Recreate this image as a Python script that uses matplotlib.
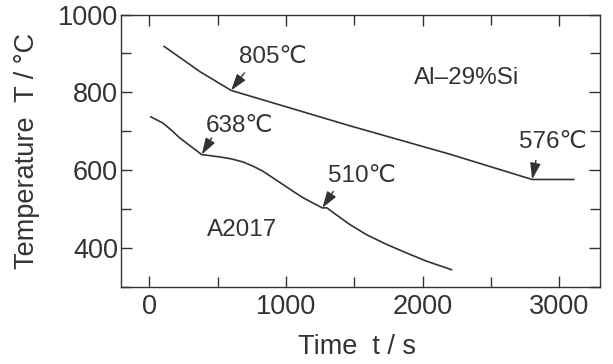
import matplotlib
matplotlib.use('Agg')
import matplotlib.pyplot as plt
from matplotlib.ticker import MultipleLocator

# cooling curves (time in s, temperature in degC)
alsi_t = [108, 371, 598, 1468, 2200, 2802, 3107]
alsi_T = [918, 853, 805, 714, 641, 576, 576]

a2017_t = [10, 99, 160, 221, 383, 450, 514, 600, 685, 760, 832, 905, 978, 1050, 1125, 1200, 1266,
           1300, 1322, 1468, 1590, 1737, 1883, 2029, 2212]
a2017_T = [737, 721, 703, 683, 640, 637, 634, 629, 621, 610, 597, 580, 563, 546, 529, 515, 503,
           503, 497, 460, 434, 409, 387, 366, 344]

# arrow marks: label, tip (t, T), tail (t, T), label position (t, T)
mark_labels = ['805℃', '638℃', '510℃', '576℃']
mark_tip = [(598, 805), (383, 640), (1266, 503), (2802, 576)]
mark_tail = [(695, 850), (456, 683), (1346, 545), (2830, 625)]
mark_text = [(901, 890), (661, 714), (1555, 584), (2955, 672)]

curve_labels = ['Al–29%Si', 'A2017']
curve_label_pos = [(2319, 836), (676, 447)]

plt.rcParams['font.family'] = ['Liberation Sans', 'DejaVu Sans']
ink = '#333333'

fig = plt.figure(figsize=(6.13, 3.64), dpi=100)
ax = fig.add_axes([0.197, 0.212, 0.782, 0.748])

ax.plot(alsi_t, alsi_T, color=ink, lw=1.2)
ax.plot(a2017_t, a2017_T, color=ink, lw=1.2)

for lab, tip, tail, pos in zip(mark_labels, mark_tip, mark_tail, mark_text):
    ax.annotate('', xy=tip, xytext=tail,
                arrowprops=dict(arrowstyle='-|>,head_length=1.0,head_width=0.32',
                                color=ink, lw=1.0, shrinkA=0, shrinkB=0))
    ax.text(pos[0], pos[1], lab, ha='center', va='center', fontsize=17.5, color=ink)

for lab, pos in zip(curve_labels, curve_label_pos):
    ax.text(pos[0], pos[1], lab, ha='center', va='center', fontsize=17.5, color=ink)

ax.set_xlim(-210, 3300)
ax.set_ylim(300, 1000)
ax.xaxis.set_major_locator(MultipleLocator(1000))
ax.xaxis.set_minor_locator(MultipleLocator(500))
ax.yaxis.set_major_locator(MultipleLocator(200))
ax.yaxis.set_minor_locator(MultipleLocator(100))

ax.tick_params(which='both', direction='in', top=True, right=True, color=ink, width=1.0)
ax.tick_params(which='major', length=8, labelsize=19.5, labelcolor=ink)
ax.tick_params(axis='x', which='major', pad=5)
ax.tick_params(axis='y', which='major', pad=2)
ax.tick_params(which='minor', length=7)
for s in ax.spines.values():
    s.set_color(ink)
    s.set_linewidth(1.0)

ax.set_xlabel('Time  t / s', fontsize=19.5, color=ink)
ax.set_ylabel('Temperature  T / °C', fontsize=19.5, color=ink)
ax.xaxis.set_label_coords(0.493, -0.175)
ax.yaxis.set_label_coords(-0.168, 0.50)

fig.savefig('out.png', dpi=100, facecolor='white')
